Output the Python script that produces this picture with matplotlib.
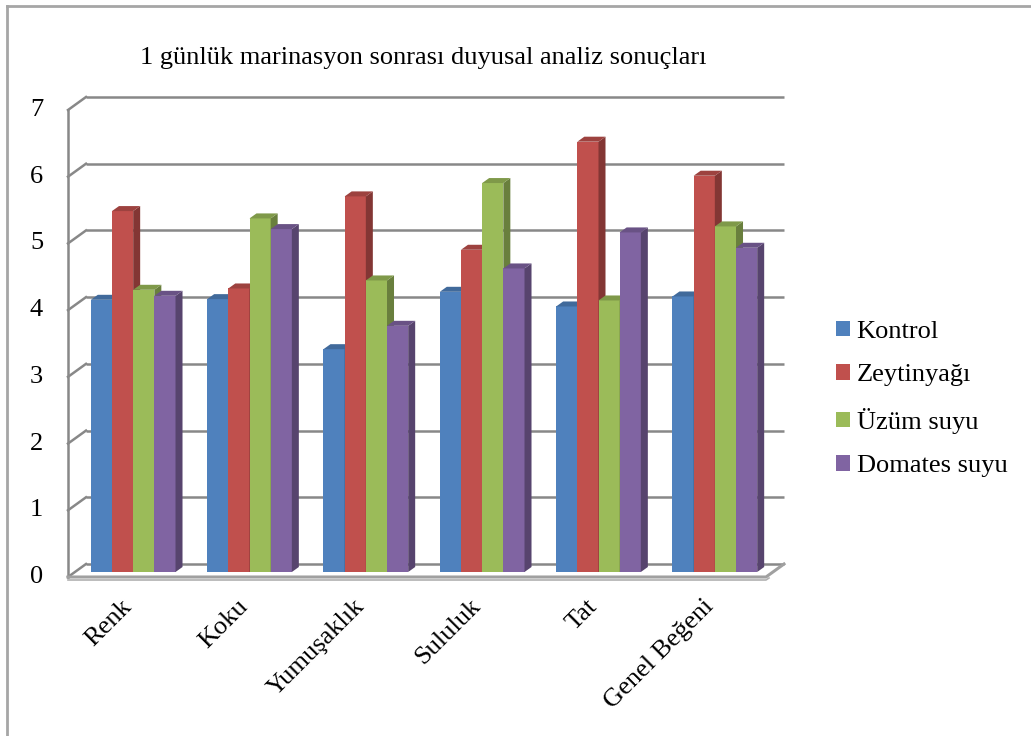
import matplotlib
matplotlib.use('Agg')
import matplotlib.pyplot as plt
from matplotlib.patches import Polygon, Patch
from matplotlib.lines import Line2D
import matplotlib.colors as mcolors
import numpy as np

categories = ['Renk', 'Koku', 'Yumuşaklık', 'Sululuk', 'Tat', 'Genel Beğeni']
series = ['Kontrol', 'Zeytinyağı', 'Üzüm suyu', 'Domates suyu']
kontrol = [4.08, 4.09, 3.34, 4.20, 3.98, 4.13]
zeytinyagi = [5.41, 4.25, 5.63, 4.83, 6.45, 5.94]
uzum_suyu = [4.23, 5.30, 4.37, 5.83, 4.07, 5.18]
domates_suyu = [4.14, 5.14, 3.69, 4.55, 5.09, 4.86]
yticks = [0, 1, 2, 3, 4, 5, 6, 7]
title = '1 günlük marinasyon sonrası duyusal analiz sonuçları'

values = [kontrol, zeytinyagi, uzum_suyu, domates_suyu]
colors = ['#4F81BD', '#C0504D', '#9BBB59', '#8064A2']

plt.rcParams['font.family'] = ['Liberation Serif', 'DejaVu Serif']

W, H = 1031, 736
fig = plt.figure(figsize=(W / 100, H / 100), dpi=100)
ax = fig.add_axes([75 / W, 164 / H, 698 / W, 467 / H])
ax.set_xlim(-0.5, len(categories) - 0.5)
ax.set_ylim(0, 7)
ax.axis('off')

# pixel -> data units
dxu = (len(categories)) / ax.bbox.width
dyu = 7 / ax.bbox.height

def shade(c, f):
    r, g, b = mcolors.to_rgb(c)
    return (r * f, g * f, b * f)

grid_c = '#888888'
xl, xr = -0.5, len(categories) - 0.5
fx, fy = -7 * dxu, -5 * dyu     # front plane
bx, by = 11 * dxu, 8 * dyu      # back wall
ddx, ddy = 7 * dxu, 5 * dyu     # bar depth

# back wall gridlines + side wall diagonals
for v in yticks:
    ax.plot([xl + bx, xr + bx], [v + by, v + by], color=grid_c, lw=1.8,
            clip_on=False, zorder=1, solid_capstyle='butt')
    ax.plot([xl + fx, xl + bx], [v + fy, v + by], color=grid_c, lw=1.8,
            clip_on=False, zorder=1)
    ax.text(xl + fx - 25 * dxu, v + fy, str(v), ha='right', va='center',
            fontsize=19, clip_on=False)

# side wall front edge
ax.plot([xl + fx, xl + fx], [fy, 7 + fy], color=grid_c, lw=1.8, clip_on=False, zorder=1)
# floor
ax.plot([xl + fx, xr + fx, xr + bx], [fy, fy, by], color='#A0A0A0', lw=2.2,
        clip_on=False, zorder=1)
ax.plot([xl + fx, xr + fx, xr + fx + 3 * dxu], [fy - 3 * dyu, fy - 3 * dyu, fy - 1 * dyu],
        color='#B0B0B0', lw=1.2, clip_on=False, zorder=1)

bw = 0.182
z = 2
for i in range(len(categories)):
    for j in range(len(series)):
        h = values[j][i]
        x0 = i + (j - 2) * bw
        x1 = x0 + bw
        ax.bar(x0, h, width=bw, align='edge', color=colors[j], lw=0, zorder=z)
        side = Polygon([(x1, 0), (x1 + ddx, ddy), (x1 + ddx, h + ddy), (x1, h)],
                       closed=True, facecolor=shade(colors[j], 0.68), lw=0, zorder=z)
        top = Polygon([(x0, h), (x0 + ddx, h + ddy), (x1 + ddx, h + ddy), (x1, h)],
                      closed=True, facecolor=shade(colors[j], 0.82), lw=0, zorder=z)
        ax.add_patch(side)
        ax.add_patch(top)
        z += 1

for i, cat in enumerate(categories):
    ax.text(i + fx + 2 * dxu, fy - 26 * dyu, cat, rotation=45, rotation_mode='anchor',
            ha='right', va='center', fontsize=19, clip_on=False)

handles = [Patch(facecolor=c, edgecolor='none') for c in colors]
fig.legend(handles, series, loc='center left', bbox_to_anchor=(836 / W, 1 - 399 / H),
           frameon=False, fontsize=19, handlelength=0.53, handleheight=0.53,
           handletextpad=0.25, labelspacing=0.81, borderpad=0, borderaxespad=0)

fig.text(423 / W, 1 - 58 / H, title, ha='center', va='center', fontsize=19)

# chart border
fig.add_artist(Line2D([7 / W, 7 / W], [0, 1 - 6 / H], transform=fig.transFigure,
                      color='#A6A6A6', lw=2))
fig.add_artist(Line2D([7 / W, 1], [1 - 6 / H, 1 - 6 / H], transform=fig.transFigure,
                      color='#A6A6A6', lw=2))

fig.savefig('out.png', dpi=100)
